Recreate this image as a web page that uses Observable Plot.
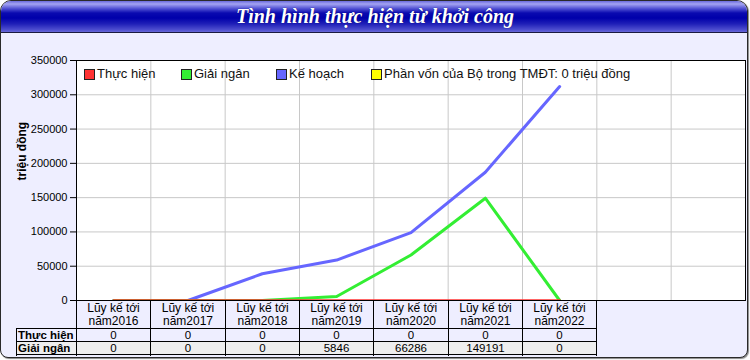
<!DOCTYPE html>
<html>
<head>
<meta charset="utf-8">
<script src="https://cdn.jsdelivr.net/npm/d3@7"></script>
<script src="https://cdn.jsdelivr.net/npm/@observablehq/plot@0.6"></script>
<style>
  html, body { margin: 0; padding: 0; background: #ffffff; }
  #wrap { position: relative; width: 750px; height: 360px; overflow: hidden; font-family: "Liberation Sans", Arial, sans-serif; }
  #card { position: absolute; left: 0; top: 0; width: 748px; height: 358px; box-sizing: border-box;
          border: 1px solid #2a2a2a; border-radius: 11px 11px 8px 8px; background: #eeeeff; overflow: hidden;
          box-shadow: 1px 1px 1px #888; }
  #titlebar { position: absolute; left: 0; top: 0; right: 0; height: 31px; border-bottom: 1px solid #1a1a40;
          background: linear-gradient(to bottom, #6a6adc 0px, #a4a4f2 3px, #4a4ad0 8px, #0a0ab0 12px, #0000aa 17px, #2020b8 23px, #5050d0 29px, #6868d8 31px); }
  #title { position: absolute; left: 0; top: 0; width: 750px; height: 32px; line-height: 33px; text-align: center;
          font-family: "Liberation Serif", "Times New Roman", serif; font-style: italic; font-weight: bold;
          font-size: 20px; color: #ffffff; text-shadow: 0 0 1px #000066; }
  #chart { position: absolute; left: 0; top: 0; }
  #legend { position: absolute; left: 0; top: 0; }
  .lg { position: absolute; top: 66px; font-size: 13px; color: #111; white-space: nowrap; line-height: 16px; }
  .sw { position: absolute; width: 9px; height: 9px; border: 1px solid #222; top: 69px; }
  #table { position: absolute; left: 0; top: 0; width: 750px; height: 356px; overflow: hidden; }
  .c { position: absolute; box-sizing: border-box; border: 1px solid #000; font-size: 11.5px; color: #000;
       text-align: center; overflow: hidden; white-space: nowrap; }
  .rh { text-align: left; font-weight: bold; padding-left: 1px; font-size: 11.5px; }
</style>
</head>
<body>
<div id="wrap">
  <div id="card"><div id="titlebar"></div></div>
  <div id="title">Tình hình thực hiện từ khởi công</div>
  <div id="chart"></div>
  <div id="legend"></div>
  <div id="table"></div>
</div>
<script>
// ---- data ----
const years = ["2016", "2017", "2018", "2019", "2020", "2021", "2022"];
const categoryLabels = years.map(y => ["Lũy kế tới", "năm" + y]);
const thucHien = [0, 0, 0, 0, 0, 0, 0];
const giaiNgan = [0, 0, 0, 5846, 66286, 149191, 0];
const keHoach = [0, 0, 39000, 59000, 99000, 187000, 312000];
const seriesNames = ["Thực hiện", "Giải ngân", "Kế hoạch", "Phần vốn của Bộ trong TMĐT: 0 triệu đồng"];
const seriesColors = ["#ff3333", "#33ee33", "#6666ff", "#ffff00"];
const yTicks = [0, 50000, 100000, 150000, 200000, 250000, 300000, 350000];
const yLabel = "triệu đồng";
// the third table row (Kế hoạch) is cut off by the card edge: only its top border shows
const tableRows = [
  {name: "Thực hiện", values: thucHien, bg: "#eeeeff", showText: true},
  {name: "Giải ngân", values: giaiNgan, bg: "#eeeeee", showText: true},
  {name: "Kế hoạch", values: keHoach, bg: "#eeeeff", showText: false}
];
const nColumns = 9;

// ---- chart ----
const toRows = (vals) => vals.map((v, i) => ({i: i + 0.5, v}));

const chart = Plot.plot({
  width: 750,
  height: 360,
  marginLeft: 76,
  marginRight: 5,
  marginTop: 60,
  marginBottom: 60,
  style: {background: "transparent", fontFamily: "Liberation Sans, Arial, sans-serif", fontSize: "11px", color: "#000"},
  x: {domain: [0, nColumns], axis: null},
  y: {domain: [0, 350000], axis: null},
  marks: [
    Plot.frame({fill: "white", stroke: null}),
    Plot.gridX(d3.range(0, nColumns + 1), {stroke: "#c8c8c8", strokeOpacity: 1}),
    Plot.gridY(yTicks, {stroke: "#c8c8c8", strokeOpacity: 1}),
    Plot.axisY({ticks: yTicks, tickSize: 6, tickPadding: 3, tickFormat: d => String(d), label: null, stroke: "#000", fill: "#000"}),
    Plot.text([yLabel], {frameAnchor: "left", dx: -54, rotate: -90, text: d => d, fontWeight: "bold", fontSize: 12, fill: "#000"}),
    Plot.lineY(toRows(keHoach), {x: "i", y: "v", stroke: seriesColors[2], strokeWidth: 3}),
    Plot.lineY(toRows(giaiNgan), {x: "i", y: "v", stroke: seriesColors[1], strokeWidth: 3}),
    Plot.lineY(toRows(thucHien), {x: "i", y: "v", stroke: seriesColors[0], strokeWidth: 2.5}),
    Plot.frame({stroke: "#000", strokeOpacity: 1})
  ]
});
document.getElementById("chart").appendChild(chart);

const xs = chart.scale("x");
const ys = chart.scale("y");
const X = (v) => Math.round(xs.apply(v));
const Y = (v) => Math.round(ys.apply(v));

// ---- legend (inside plot area) ----
const legendX = [84, 181, 276, 371];
const legend = document.getElementById("legend");
seriesNames.forEach((name, k) => {
  const sw = document.createElement("div");
  sw.className = "sw";
  sw.style.left = legendX[k] + "px";
  sw.style.background = seriesColors[k];
  legend.appendChild(sw);
  const t = document.createElement("div");
  t.className = "lg";
  t.style.left = (legendX[k] + 13) + "px";
  t.textContent = name;
  legend.appendChild(t);
});

// ---- data table under the plot ----
const table = document.getElementById("table");
function cell(left, top, w, h, html, cls, bg, style) {
  const d = document.createElement("div");
  d.className = "c" + (cls ? " " + cls : "");
  d.style.left = left + "px";
  d.style.top = top + "px";
  d.style.width = w + "px";
  d.style.height = h + "px";
  d.style.background = bg;
  if (style) Object.assign(d.style, style);
  d.innerHTML = html;
  table.appendChild(d);
  return d;
}
const top0 = Y(0);
const headerH = 29;
const rowH = 14;
const rhLeft = 16;
years.forEach((y, i) => {
  const x0 = X(i), x1 = X(i + 1);
  cell(x0, top0, x1 - x0 + 1, headerH, categoryLabels[i].join("<br>"), "", "#eeeeff",
       {lineHeight: "13px", paddingTop: "1px", fontSize: "12px"});
});
tableRows.forEach((r, k) => {
  const top = top0 + headerH - 1 + k * (rowH - 1);
  cell(rhLeft, top, X(0) - rhLeft + 1, rowH, r.showText ? r.name : "", "rh", r.bg, {lineHeight: "12px"});
  r.values.forEach((v, i) => {
    const x0 = X(i), x1 = X(i + 1);
    cell(x0, top, x1 - x0 + 1, rowH, r.showText ? String(v) : "", "", r.bg, {lineHeight: "12px"});
  });
});
</script>
</body>
</html>
